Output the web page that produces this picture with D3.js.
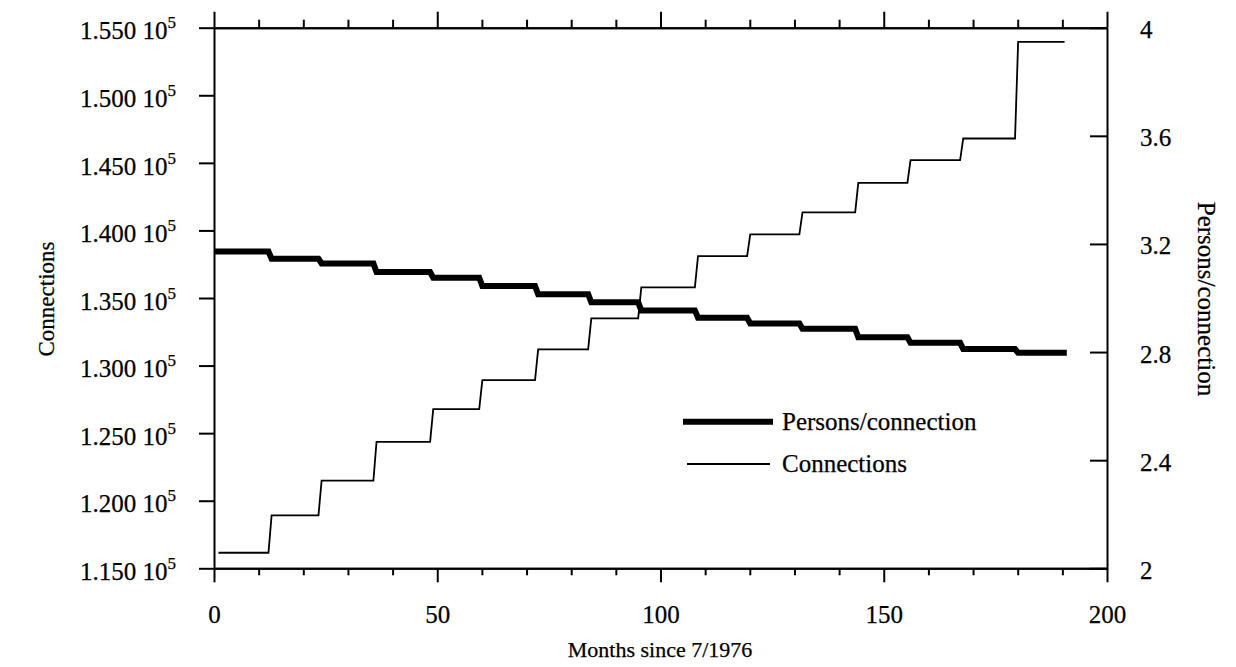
<!DOCTYPE html>
<html>
<head>
<meta charset="utf-8">
<script src="https://cdn.jsdelivr.net/npm/d3@7"></script>
<style>
  body { margin: 0; background: #fff; }
  svg { font-family: "Liberation Serif", "Times New Roman", serif; }
  svg text { stroke: #000; stroke-width: 0.25; }
  .axis path, .axis line { stroke: #000; stroke-width: 2; }
  .axis text { fill: #000; }
</style>
</head>
<body>
<div id="content"></div>
<script>
// month at which each yearly revision takes effect
var stepMonths = [12.2, 23.4, 35.7, 48.4, 59.4, 71.9, 83.8, 95.0, 107.7, 119.4, 131.1, 143.6, 155.3, 167.1, 179.4];
// level held between consecutive steps
var connections = [116150, 118920, 121480, 124360, 126780, 128930, 131200, 133490,
                   135780, 138100, 139710, 141330, 143520, 145200, 146800, 153950];
var personsPerConnection = [3.172, 3.145, 3.128, 3.096, 3.075, 3.044, 3.014, 2.984,
                            2.954, 2.927, 2.906, 2.886, 2.855, 2.834, 2.811, 2.797];
var firstMonth = { connections: 1, persons: 0 },
    lastMonth = { connections: 190.5, persons: 191 };

var monthTicksMajor = [0, 50, 100, 150, 200],
    monthTicksMinor = [10, 20, 30, 40, 60, 70, 80, 90, 110, 120, 130, 140, 160, 170, 180, 190],
    connTicks = [115000, 120000, 125000, 130000, 135000, 140000, 145000, 150000, 155000],
    personsTicks = [2, 2.4, 2.8, 3.2, 3.6, 4];

var width = 1236, height = 667,
    plot = { left: 214, right: 1107, top: 27.7, bottom: 568.3 };

var svg = d3.select("#content").append("svg")
    .attr("width", width)
    .attr("height", height);

var x = d3.scaleLinear().domain([0, 200]).range([plot.left, plot.right]),
    yConn = d3.scaleLinear().domain([115000, 155000]).range([plot.bottom, plot.top]),
    yPers = d3.scaleLinear().domain([2, 4]).range([plot.bottom, plot.top]);

function _stepPoints(levels, start, end) {
  var pts = [];
  levels.forEach(function (v, i) {
    var from = i === 0 ? start : stepMonths[i - 1] + 0.7,
        to = i === levels.length - 1 ? end : stepMonths[i];
    pts.push([from, v], [to, v]);
  });
  return pts;
}

function _cleanAxis(g) {
  g.attr("font-family", null).attr("font-size", null).classed("axis", true);
}

// bottom axis: minor and major ticks, labels on the major ones
svg.append("g")
   .attr("transform", "translate(0," + plot.bottom + ")")
   .call(d3.axisBottom(x).tickValues(monthTicksMinor).tickSize(7).tickFormat("").tickSizeOuter(0))
   .call(_cleanAxis);
svg.append("g")
   .attr("transform", "translate(0," + plot.bottom + ")")
   .call(d3.axisBottom(x).tickValues(monthTicksMajor).tickSize(14).tickPadding(23).tickSizeOuter(0))
   .call(_cleanAxis)
   .selectAll("text").attr("font-size", 25);

// top axis, ticks only
svg.append("g")
   .attr("transform", "translate(0," + plot.top + ")")
   .call(d3.axisTop(x).tickValues(monthTicksMinor).tickSize(8).tickFormat("").tickSizeOuter(0))
   .call(_cleanAxis);
svg.append("g")
   .attr("transform", "translate(0," + plot.top + ")")
   .call(d3.axisTop(x).tickValues(monthTicksMajor).tickSize(16).tickFormat("").tickSizeOuter(0))
   .call(_cleanAxis);

// left axis, labels like "1.550 10^5"
var leftAxis = svg.append("g")
   .attr("transform", "translate(" + plot.left + ",0)")
   .call(d3.axisLeft(yConn).tickValues(connTicks).tickSize(15).tickPadding(23).tickSizeOuter(0))
   .call(_cleanAxis);
leftAxis.selectAll("text")
   .attr("font-size", 25)
   .attr("dy", "0.45em")
   .text(null)
   .each(function (d) {
     var t = d3.select(this);
     t.append("tspan").text(d3.format(".3f")(d / 1e5) + " 10");
     t.append("tspan").attr("font-size", 17).attr("dy", -11).text("5");
   });

// right axis, ticks pointing inward
svg.append("g")
   .attr("transform", "translate(" + plot.right + ",0)")
   .call(d3.axisRight(yPers).tickValues(personsTicks).tickSize(-17).tickPadding(33)
           .tickFormat(function (d) { return String(d); }).tickSizeOuter(0))
   .call(_cleanAxis)
   .selectAll("text").attr("font-size", 25).attr("dy", "0.4em");

// data lines
svg.append("path")
   .datum(_stepPoints(connections, firstMonth.connections, lastMonth.connections))
   .attr("fill", "none")
   .attr("stroke", "#000")
   .attr("stroke-width", 1.8)
   .attr("d", d3.line().x(function (d) { return x(d[0]); }).y(function (d) { return yConn(d[1]); }));

svg.append("path")
   .datum(_stepPoints(personsPerConnection, firstMonth.persons, lastMonth.persons))
   .attr("fill", "none")
   .attr("stroke", "#000")
   .attr("stroke-width", 6)
   .attr("d", d3.line().x(function (d) { return x(d[0]); }).y(function (d) { return yPers(d[1]); }));

// legend
var legend = svg.append("g").attr("font-size", 25);
legend.append("line").attr("x1", 683).attr("x2", 773).attr("y1", 421.7).attr("y2", 421.7)
      .attr("stroke", "#000").attr("stroke-width", 6);
legend.append("text").attr("x", 782).attr("y", 430).text("Persons/connection");
legend.append("line").attr("x1", 687).attr("x2", 770).attr("y1", 464).attr("y2", 464)
      .attr("stroke", "#000").attr("stroke-width", 1.8);
legend.append("text").attr("x", 782).attr("y", 472).text("Connections");

// axis titles
svg.append("text")
   .attr("transform", "translate(54,299) rotate(-90)")
   .attr("text-anchor", "middle")
   .attr("font-size", 23)
   .text("Connections");

svg.append("text")
   .attr("transform", "translate(1198,299) rotate(90)")
   .attr("text-anchor", "middle")
   .attr("font-size", 25)
   .text("Persons/connection");

svg.append("text")
   .attr("x", 660)
   .attr("y", 657)
   .attr("text-anchor", "middle")
   .attr("font-size", 22)
   .text("Months since 7/1976");
</script>
</body>
</html>
